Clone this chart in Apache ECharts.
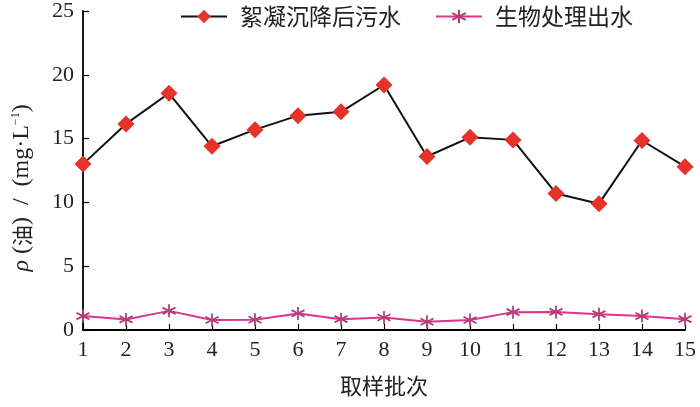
<!DOCTYPE html>
<html>
<head>
<meta charset="utf-8">
<script src="https://cdn.jsdelivr.net/npm/echarts@6/dist/echarts.min.js"></script>
<style>html,body{margin:0;padding:0;background:#fff}#c{width:700px;height:407px}</style>
</head>
<body>
<div id="c"></div>
<script>
var categories = ['1','2','3','4','5','6','7','8','9','10','11','12','13','14','15'];
var seriesNames = ['絮凝沉降后污水', '生物处理出水'];
var flocculated = [13.0, 16.15, 18.55, 14.4, 15.7, 16.8, 17.1, 19.2, 13.6, 15.1, 14.9, 10.7, 9.9, 14.85, 12.8];
var biological = [1.09, 0.83, 1.5, 0.78, 0.8, 1.3, 0.85, 0.98, 0.65, 0.78, 1.4, 1.42, 1.24, 1.09, 0.85];
var yTicks = {min: 0, max: 25, interval: 5};
var xTitle = '取样批次';

var serif = '"Liberation Serif", "DejaVu Serif", serif';
var cjk = '"Noto Sans CJK SC", sans-serif';
var chart = echarts.init(document.getElementById('c'));
var asterisk = 'path://M0,-10L0,10M-8.66,-5L8.66,5M-8.66,5L8.66,-5';
chart.setOption({
  animation: false,
  backgroundColor: '#fff',
  grid: {left: 83, right: 15, top: 8, bottom: 77, containLabel: false},
  legend: {
    top: 0, left: 175,
    itemWidth: 46, itemHeight: 17, itemGap: 34,
    textStyle: {fontFamily: cjk, fontSize: 23, color: '#222', padding: [0, 0, 0, 8]},
    data: seriesNames
  },
  graphic: [{
    type: 'text', x: 22, y: 188, rotation: Math.PI / 2,
    style: {
      text: '{i|ρ}{n| (}{c|油}{n|)  /  (mg·L}{s|−1}{n|)}',
      align: 'center', verticalAlign: 'middle',
      rich: {
        i: {fontFamily: serif, fontStyle: 'italic', fontSize: 24, fill: '#222'},
        n: {fontFamily: serif, fontSize: 24, fill: '#222'},
        c: {fontFamily: cjk, fontSize: 21, fill: '#222'},
        s: {fontFamily: serif, fontSize: 12, fill: '#222', verticalAlign: 'top', padding: [0, 0, 10, 0]}
      }
    }
  }],
  xAxis: {
    type: 'category', data: categories, boundaryGap: false,
    name: xTitle, nameLocation: 'middle', nameGap: 45,
    nameTextStyle: {fontFamily: cjk, fontSize: 22, color: '#222'},
    axisLine: {lineStyle: {color: '#000', width: 1.8}},
    axisTick: {inside: true, length: 6, alignWithLabel: true, lineStyle: {color: '#000', width: 1.2}},
    axisLabel: {fontFamily: serif, fontSize: 22, color: '#222', margin: 9, interval: 0},
    splitLine: {show: false}
  },
  yAxis: {
    type: 'value', min: yTicks.min, max: yTicks.max, interval: yTicks.interval,
    axisLine: {show: true, lineStyle: {color: '#000', width: 1.8}},
    axisTick: {show: true, inside: true, length: 6, lineStyle: {color: '#000', width: 1.2}},
    axisLabel: {fontFamily: serif, fontSize: 22, color: '#222', margin: 9, padding: [3, 0, 0, 0]},
    splitLine: {show: false}
  },
  series: [
    {
      name: seriesNames[0], type: 'line', data: flocculated,
      symbol: 'diamond', symbolSize: 17,
      itemStyle: {color: '#e5322a'},
      lineStyle: {color: '#111', width: 2},
      z: 3
    },
    {
      name: seriesNames[1], type: 'line', data: biological,
      symbol: asterisk, symbolSize: 13,
      itemStyle: {color: '#b0407a', borderColor: '#b0407a', borderWidth: 1.8},
      lineStyle: {color: '#e0338a', width: 2},
      z: 2
    }
  ]
});
</script>
</body>
</html>
